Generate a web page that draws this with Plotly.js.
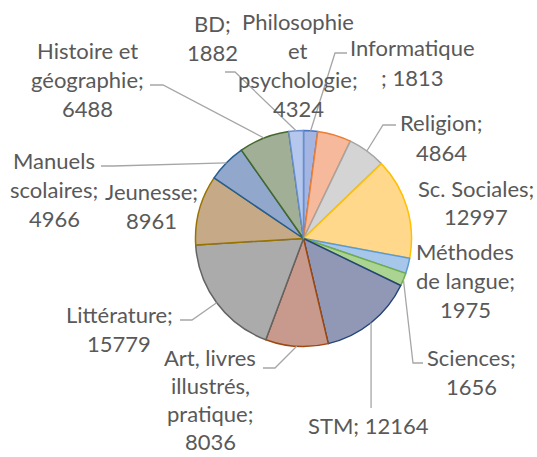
<!DOCTYPE html>
<html><head><meta charset="utf-8">
<script src="https://cdn.plot.ly/plotly-3.0.1.min.js"></script>
<style>html,body{margin:0;padding:0;background:#fff;}</style>
</head><body>
<div id="chart" style="width:537px;height:457px;"></div>
<script>
// ---- data ----
const categories = ["Informatique", "Philosophie et psychologie", "Religion", "Sc. Sociales",
  "Méthodes de langue", "Sciences", "STM", "Art, livres illustrés, pratique", "Littérature",
  "Jeunesse", "Manuels scolaires", "Histoire et géographie", "BD"];
const values = [1813, 4324, 4864, 12997, 1975, 1656, 12164, 8036, 15779, 8961, 4966, 6488, 1882];

// ---- styling / layout ----
const fillColors = ["#A3B5E0", "#F6B99C", "#D4D4D4", "#FFD88C", "#A6C6EA", "#ABD492", "#9098B6",
  "#C89A8E", "#ABABAB", "#C6AA88", "#91A7CB", "#A0AF96", "#B5C7EC"];
const lineColors = ["#4472C4", "#ED7D31", "#A5A5A5", "#FFC000", "#5B9BD5", "#70AD47", "#264478",
  "#9E480E", "#636363", "#997300", "#255E91", "#43682B", "#698ED0"];

const W = 537, H = 457, CX = 303.5, CY = 238.5, R = 108;
// character indices where a new label line begins
const labelBreaks = [[12], [12, 15, 28], [10], [14], [9, 20], [10], [], [12, 23, 33], [13], [10], [8, 19], [12, 24], [4]];
// label centre x, first-line centre y, line spacing (pixels)
const labelPos = [[412, 48, 29], [298, 21.5, 29], [441, 123, 29], [476, 188, 29], [465, 251, 29],
  [471, 357, 29], [368, 425, 29], [210, 357, 28], [119, 314, 29], [151, 191, 29], [54, 160, 29],
  [87, 50, 29], [212, 23, 29]];
// leader line waypoints after the slice edge point (pixels); null = no leader
const leaders = [[[335, 53], [347, 53]], null, [[383, 125], [396, 125]], null, null,
  [[413, 363], [423, 363]], [["edge", 408]], [[275, 368], [263, 368]], [[192, 320], [180, 320]],
  null, [[113, 166], [101, 166]], [[163, 85], [150, 85]], [[235, 72], [225, 72]]];

const px = x => x / W, py = y => 1 - y / H;

const total = values.reduce((a, b) => a + b, 0);
let cum = 0;
const midAngles = values.map(v => { const m = (cum + v / 2) / total * 360; cum += v; return m; });

const annotations = [];
const shapes = [];
categories.forEach((c, i) => {
  const txt = c + "; " + values[i];
  const idx = [0].concat(labelBreaks[i]).concat([txt.length]);
  const lines = [];
  for (let k = 0; k < idx.length - 1; k++) lines.push(txt.slice(idx[k], idx[k + 1]).trim());
  lines.forEach((ln, k) => {
    annotations.push({
      text: ln, x: px(labelPos[i][0]), y: py(labelPos[i][1] + k * labelPos[i][2]),
      xref: "paper", yref: "paper", xanchor: "center", yanchor: "middle", showarrow: false,
      font: {family: "Lato, 'Open Sans', sans-serif", size: 22, color: "#595959"}
    });
  });
  if (leaders[i]) {
    const a = midAngles[i] * Math.PI / 180;
    const ex = CX + R * Math.sin(a), ey = CY - R * Math.cos(a);
    let path = `M ${px(ex)} ${py(ey)}`;
    leaders[i].forEach(p => {
      const x = p[0] === "edge" ? ex : p[0];
      path += ` L ${px(x)} ${py(p[1])}`;
    });
    shapes.push({type: "path", xref: "paper", yref: "paper", path: path,
      line: {color: "#A6A6A6", width: 1.3}});
  }
});

const trace = {
  type: "pie", labels: categories, values: values, sort: false, direction: "clockwise",
  rotation: 0, textinfo: "none", hoverinfo: "label+value",
  marker: {colors: fillColors, line: {color: lineColors, width: 1.5}},
  domain: {x: [px(CX - R), px(CX + R)], y: [py(CY + R), py(CY - R)]}
};

const layout = {
  width: W, height: H, margin: {l: 0, r: 0, t: 0, b: 0},
  paper_bgcolor: "#ffffff", showlegend: false,
  annotations: annotations, shapes: shapes
};

Plotly.newPlot("chart", [trace], layout, {displayModeBar: false, staticPlot: true});
</script>
</body></html>
